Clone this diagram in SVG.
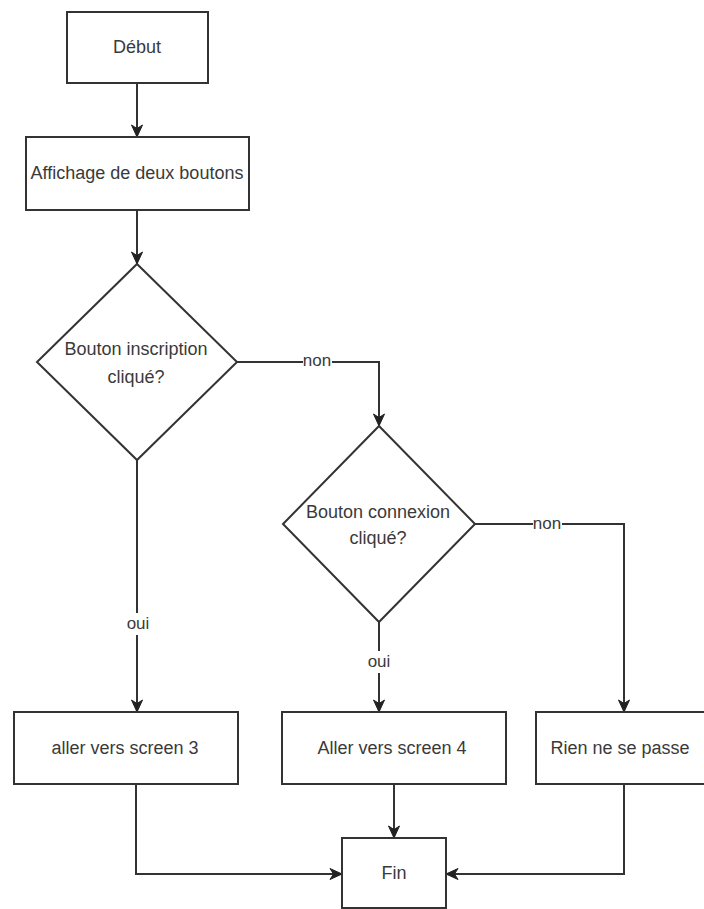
<svg xmlns="http://www.w3.org/2000/svg" width="704" height="909" viewBox="0 0 704 909">
  <defs>
    <marker id="arrow" markerUnits="userSpaceOnUse" markerWidth="14" markerHeight="14" viewBox="0 0 14 14" refX="13" refY="7" orient="auto">
      <path d="M1,1.5 L13,7 L1,12.5 L4.5,7 Z" fill="#222" stroke="#222" stroke-width="1" stroke-linejoin="miter"/>
    </marker>
  </defs>
  <style>
    .shape { fill: #ffffff; stroke: #333333; stroke-width: 2; }
    .edge { fill: none; stroke: #333333; stroke-width: 2; marker-end: url(#arrow); }
    .label { font-family: "Liberation Sans", Arial, sans-serif; font-size: 18px; fill: #3a3a3a; text-anchor: middle; dominant-baseline: central; }
    .edge-label { font-family: "Liberation Sans", Arial, sans-serif; font-size: 17px; fill: #3a3a3a; text-anchor: middle; dominant-baseline: central; }
    .label-bg { fill: #ffffff; stroke: none; }
  </style>

  <rect x="0" y="0" width="704" height="909" fill="#ffffff"/>

  <!-- connectors -->
  <g id="connectors">
    <path class="edge" d="M137,83 L137,137"/>
    <path class="edge" d="M137,210 L137,264"/>
    <path class="edge" d="M237,362 L379,362 L379,426"/>
    <path class="edge" d="M137,460 L137,712"/>
    <path class="edge" d="M379,622 L379,712"/>
    <path class="edge" d="M475,524 L624,524 L624,712"/>
    <path class="edge" d="M136,784 L136,874 L342,874"/>
    <path class="edge" d="M394,784 L394,838"/>
    <path class="edge" d="M624,784 L624,874 L446,874"/>

    <rect class="label-bg" x="303" y="353" width="29" height="18"/>
    <text class="edge-label" x="317" y="360">non</text>
    <rect class="label-bg" x="533" y="515" width="29" height="18"/>
    <text class="edge-label" x="547" y="523">non</text>
    <rect class="label-bg" x="126" y="613" width="24" height="22"/>
    <text class="edge-label" x="138" y="623">oui</text>
    <rect class="label-bg" x="367" y="651" width="24" height="22"/>
    <text class="edge-label" x="379" y="661">oui</text>
  </g>

  <g id="debut">
    <rect class="shape" x="67" y="12" width="141" height="71"/>
    <text class="label" x="137" y="47">Début</text>
  </g>

  <g id="affichage">
    <rect class="shape" x="26" y="137" width="223" height="73"/>
    <text class="label" x="137" y="173">Affichage de deux boutons</text>
  </g>

  <g id="inscription">
    <polygon class="shape" points="137,264 237,362 137,460 37,362"/>
    <text class="label" x="136" y="349">Bouton inscription</text>
    <text class="label" x="136" y="377">cliqué?</text>
  </g>

  <g id="connexion">
    <polygon class="shape" points="379,426 475,524 379,622 283,524"/>
    <text class="label" x="378" y="512">Bouton connexion</text>
    <text class="label" x="378" y="538">cliqué?</text>
  </g>

  <g id="screen3">
    <rect class="shape" x="14" y="712" width="224" height="72"/>
    <text class="label" x="125" y="748">aller vers screen 3</text>
  </g>

  <g id="screen4">
    <rect class="shape" x="282" y="712" width="224" height="72"/>
    <text class="label" x="392" y="748">Aller vers screen 4</text>
  </g>

  <g id="rien">
    <rect class="shape" x="536" y="712" width="180" height="72"/>
    <text class="label" x="620" y="748">Rien ne se passe</text>
  </g>

  <g id="fin">
    <rect class="shape" x="342" y="838" width="104" height="70"/>
    <text class="label" x="394" y="873">Fin</text>
  </g>
</svg>
